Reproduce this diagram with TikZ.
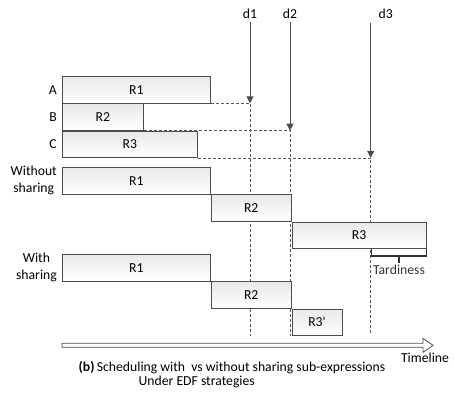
\documentclass[tikz,border=0pt]{standalone}
\usepackage{fontspec}
\setmainfont{Carlito}[Ligatures=TeXOff]
\usetikzlibrary{arrows.meta,positioning,backgrounds}

\begin{document}
\begin{tikzpicture}[x=1pt, y=-1pt,
  every node/.style={font=\fontsize{13.7}{16.5}\selectfont},
  job/.style={draw=black!70, line width=0.8pt, top color=black!9, bottom color=white,
    minimum height=26.5pt, inner sep=0pt, anchor=north west},
  rowlabel/.style={inner sep=0pt, align=center},
  deadline/.style={-{Triangle[length=7pt,width=7pt]}, black!70, line width=1pt},
  guide/.style={black!65, line width=0.8pt, dash pattern=on 3pt off 2pt},
  brace/.style={black!80, line width=1.2pt}]
  \useasboundingbox (0,0) rectangle (454,392);

  % Tasks with their deadlines
  \node[job, minimum width=148pt] (a1) at (62,76) {R1};
  \node[job, minimum width=81pt] (b1) at (a1.south west) {R2};
  \node[job, minimum width=135pt] (c1) at (b1.south west) {R3};
  \node[rowlabel, left=5pt of a1] (la) {A};
  \node[rowlabel, left=5pt of b1] (lb) {B};
  \node[rowlabel, left=5pt of c1] (lc) {C};

  % Without sharing
  \node[job, minimum width=148pt] (n1) at (62,167) {R1};
  \node[job, minimum width=80pt] (n2) at (n1.south east) {R2};
  \node[job, minimum width=134pt] (n3) at (n2.south east) {R3};
  \node[rowlabel, left=5pt of n1] (ln) {Without\\sharing};

  % With sharing
  \node[job, minimum width=148pt] (s1) at (62,254) {R1};
  \node[job, minimum width=80pt] (s2) at (s1.south east) {R2};
  \node[job, minimum width=50pt] (s3) at (s2.south east) {R3'};
  \node[rowlabel, left=5pt of s1] (ls) {With\\sharing};

  % Deadlines
  \node (dl1) at (250,14) {d1};
  \node (dl2) at (290,14) {d2};
  \node (dl3) at (385.7,14) {d3};
  \coordinate (d3top) at (370.7,22.7);
  \coordinate (t1) at (dl1 |- a1.south);
  \coordinate (t2) at (dl2 |- b1.south);
  \coordinate (t3) at (d3top |- c1.south);
  \coordinate (e1) at (t1 |- s3.south);
  \coordinate (e2) at (t2 |- s3.south);
  \coordinate (e3) at ([yshift=3pt]t3 |- s3.south);

  \begin{scope}[on background layer]
    \draw[guide] (a1.south east) -- (t1) -- (e1);
    \draw[guide] (b1.south east) -- (t2) -- (e2);
    \draw[guide] (c1.south east) -- (t3) -- (e3);
  \end{scope}
  \draw[deadline] (dl1.south) -- (t1);
  \draw[deadline] (dl2.south) -- (t2);
  \draw[deadline] (d3top) -- (t3);

  % Tardiness
  \coordinate (tl) at ([xshift=0.8pt]t3 |- n3.south);
  \draw[brace] (tl) -- ++(0,7) coordinate (tb) -| (n3.south east);
  \path (tb) -- (tb -| n3.south east) coordinate[midway] (tmid);
  \draw[brace] (tmid) -- ++(0,7) node[below, inner sep=1pt] (tard) {Tardiness};

  % Timeline
  \draw[black!70, line width=0.8pt, fill=white]
    (62,343.3) -- (423,343.3) -- (423,338.3) -- (433,345.3)
    -- (423,352.3) -- (423,347.3) -- (62,347.3) -- cycle;
  \node (tline) at (425,358) {Timeline};
  \node (cap1) at (232,368) {\textbf{(b)}\,Scheduling with\ \ vs without sharing sub-expressions};
  \node (cap2) at (196.7,381.7) {Under EDF strategies};
\end{tikzpicture}
\end{document}
